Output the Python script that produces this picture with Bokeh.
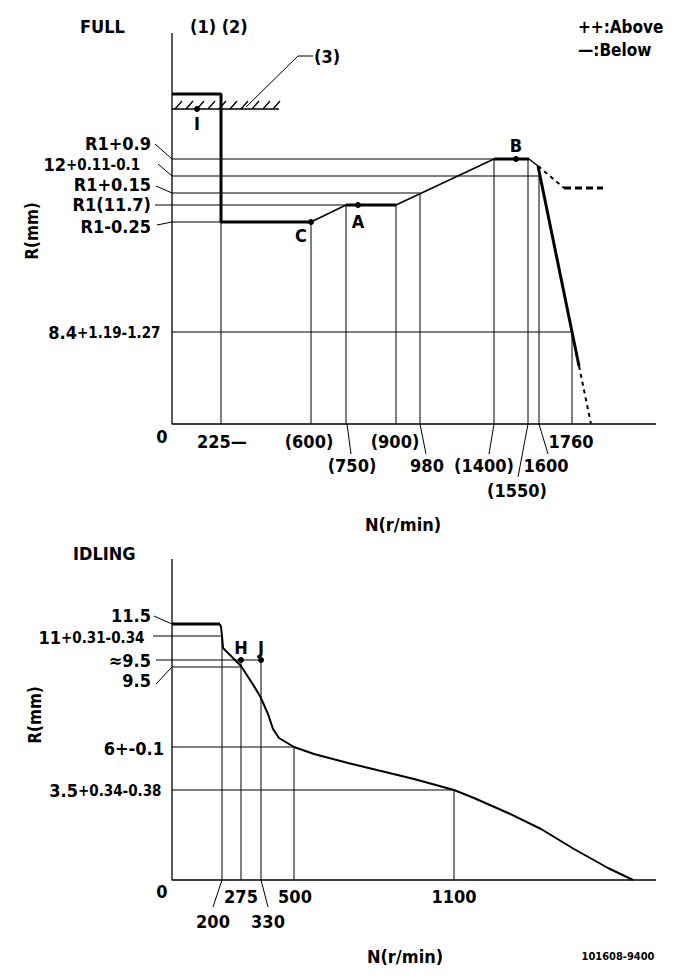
import math
from bokeh.plotting import figure
from bokeh.models import Range1d, ColumnDataSource, Label
from bokeh.core.properties import value
from bokeh.embed import file_html
from bokeh.resources import INLINE

W, H = 681, 979
FONT = "DejaVu Sans Condensed"

# ================= FULL diagram (schematic page positions) =================
full_axis_x = [171, 171, 655]
full_axis_y = [32, 423, 423]

# governor characteristic, thick solid pieces
full_thick_x = [[171, 220, 220, 310], [345, 395], [493, 528], [537, 578]]
full_thick_y = [[93, 93, 221, 221], [204, 204], [158, 158], [165, 365]]
# thin connecting pieces
full_thin_x = [[310, 345], [395, 493], [528, 537]]
full_thin_y = [[221, 204], [204, 158], [158, 165]]
# dashed extensions
full_dash_x = [[578, 590], [537, 563]]
full_dash_y = [[365, 423], [165, 187]]
full_dash2_x = [563, 602]
full_dash2_y = [187, 187]

# reference lines
full_hline_y = [158, 175, 192, 204, 221, 331]
full_hline_x0 = [171, 171, 171, 154, 171, 171]
full_hline_x1 = [493, 538, 419, 345, 220, 571]
full_vline_x = [220, 310, 345, 395, 419, 493, 527, 538, 571]
full_vline_y0 = [221, 221, 204, 204, 192, 158, 158, 175, 331]

# y labels
full_ylab = ["R1+0.9", "R1+0.15", "R1(11.7)", "R1-0.25"]
full_ylab_x = [150, 150, 150, 150]
full_ylab_y = [142, 183, 203, 225]
full_lead_x0 = [154, 157, 155, 156]
full_lead_y0 = [143, 163, 185, 224]
full_lead_y1 = [158, 175, 192, 221]
full_tol_base = ["12", "8.4"]
full_tol_part = ["+0.11-0.1", "+1.19-1.27"]
full_tol_x = [65, 76]
full_tol_y = [163, 331]

# x tick labels
full_xtick = ["225—", "(600)", "(900)", "1760", "(750)", "980", "(1400)", "1600", "(1550)"]
full_xtick_x = [221, 308, 394, 570, 351, 426, 483, 545, 516]
full_xtick_y = [440, 440, 440, 440, 464, 464, 464, 464, 489]
full_xlead_x0 = [346, 419, 493, 527, 538]
full_xlead_x1 = [350, 425, 488, 517, 547]
full_xlead_y1 = [453, 453, 453, 476, 453]

# points
full_pt = ["I", "C", "A", "B"]
full_pt_x = [196, 310, 357, 515]
full_pt_y = [108, 221, 204, 158]
full_pt_lx = [196, 300, 357, 515]
full_pt_ly = [122, 234, 220, 144]

# stopper (3)
stop_x = [171, 278]
stop_y = [108, 108]
hatch_x = [174, 185, 196, 207, 218, 229, 240, 251, 262, 272]
lead3_x = [245, 297, 312]
lead3_y = [106, 55, 55]

# ================= IDLING diagram =================
idle_axis_x = [171, 171, 655]
idle_axis_y = [558, 879, 879]
idle_thick_x = [171, 219]
idle_thick_y = [623, 623]
idle_curve_x = [219, 220, 221, 222, 240, 251, 259, 267, 272, 278, 293, 313, 347,
                380, 413, 453, 473, 507, 540, 573, 607, 632]
idle_curve_y = [623, 626, 635, 647, 665, 682, 695, 713, 728, 737, 746, 753, 762,
                770, 778, 789, 797, 812, 828, 848, 867, 879]

idle_hline_y = [635, 659, 666, 746, 789]
idle_hline_x0 = [152, 155, 171, 171, 171]
idle_hline_x1 = [220, 260, 240, 293, 453]
idle_vline_x = [221, 240, 260, 293, 453]
idle_vline_y0 = [635, 659, 659, 746, 789]

idle_ylab = ["11.5", "≈9.5", "9.5", "6+-0.1"]
idle_ylab_x = [150, 150, 150, 163]
idle_ylab_y = [614, 659, 679, 747]
idle_lead_x0 = [153, 155]
idle_lead_y0 = [615, 683]
idle_lead_y1 = [623, 666]
idle_tol_base = ["11", "3.5"]
idle_tol_part = ["+0.31-0.34", "+0.34-0.38"]
idle_tol_x = [60, 77]
idle_tol_y = [636, 789]

idle_xtick = ["275", "500", "1100", "200", "330"]
idle_xtick_x = [240, 294, 453, 212, 267]
idle_xtick_y = [895, 895, 895, 920, 920]
idle_xlead_x0 = [221, 260]
idle_xlead_x1 = [212, 267]

idle_pt = ["H", "J"]
idle_pt_x = [240, 260]
idle_pt_y = [659, 659]

# ============================ drawing ============================
# half-pixel offset so 1px lines fall on pixel centres
p = figure(width=W, height=H, x_range=Range1d(-0.5, W - 0.5), y_range=Range1d(H - 0.5, -0.5),
           output_backend="svg", toolbar_location=None, min_border=0,
           x_axis_location=None, y_axis_location=None)
p.grid.visible = False
p.outline_line_color = None
p.background_fill_color = "white"
p.border_fill_color = "white"

BK = "black"


def txt(xs, ys, texts, align="center", size=18, bold=True):
    src = ColumnDataSource(dict(x=xs, y=ys, t=texts))
    p.text(x="x", y="y", text="t", source=src, text_align=align,
           text_baseline="middle", text_font=value(FONT),
           text_font_size=value(f"{size}px"),
           text_font_style="bold" if bold else "normal", text_color=BK)


# ---- FULL ----
p.line(full_axis_x, full_axis_y, line_color=BK, line_width=1.3)
p.multi_line(full_thick_x, full_thick_y, line_color=BK, line_width=3)
p.multi_line(full_thin_x, full_thin_y, line_color=BK, line_width=1.5)
p.multi_line(full_dash_x, full_dash_y, line_color=BK, line_width=2, line_dash="4 4")
p.line(full_dash2_x, full_dash2_y, line_color=BK, line_width=3, line_dash="7 4")
p.segment(full_hline_x0, full_hline_y, full_hline_x1, full_hline_y, line_color=BK, line_width=1)
p.segment(full_vline_x, full_vline_y0, full_vline_x, [423] * len(full_vline_x), line_color=BK, line_width=1)
p.segment(full_lead_x0, full_lead_y0, [171] * 4, full_lead_y1, line_color=BK, line_width=1)
p.segment(full_xlead_x0, [423] * 5, full_xlead_x1, full_xlead_y1, line_color=BK, line_width=1)
p.line(stop_x, stop_y, line_color=BK, line_width=1.3)
p.segment(hatch_x, [108] * len(hatch_x), [h + 7 for h in hatch_x], [100] * len(hatch_x),
          line_color=BK, line_width=1.3)
p.line(lead3_x, lead3_y, line_color=BK, line_width=1)
p.scatter(full_pt_x, full_pt_y, size=5, color=BK)

txt(full_ylab_x, full_ylab_y, full_ylab, align="right")
txt(full_tol_x, full_tol_y, full_tol_base, align="right")
txt(full_tol_x, full_tol_y, full_tol_part, align="left", size=15)
txt(full_xtick_x, full_xtick_y, full_xtick)
txt(full_pt_lx, full_pt_ly, full_pt)
txt([79, 189, 313], [25, 25, 55], ["FULL", "(1) (2)", "(3)"], align="left")
txt([577, 577], [26, 49], ["++:Above", "—:Below"], align="left", size=17)
txt([161, 402], [435, 523], ["0", "N(r/min)"])

# ---- IDLING ----
p.line(idle_axis_x, idle_axis_y, line_color=BK, line_width=1.3)
p.line(idle_thick_x, idle_thick_y, line_color=BK, line_width=3)
p.line(idle_curve_x, idle_curve_y, line_color=BK, line_width=2)
p.segment(idle_hline_x0, idle_hline_y, idle_hline_x1, idle_hline_y, line_color=BK, line_width=1)
p.segment(idle_vline_x, idle_vline_y0, idle_vline_x, [879] * len(idle_vline_x), line_color=BK, line_width=1)
p.segment(idle_lead_x0, idle_lead_y0, [171, 171], idle_lead_y1, line_color=BK, line_width=1)
p.segment(idle_xlead_x0, [879, 879], idle_xlead_x1, [906, 906], line_color=BK, line_width=1)
p.scatter(idle_pt_x, idle_pt_y, size=5, color=BK)

txt(idle_ylab_x, idle_ylab_y, idle_ylab, align="right")
txt(idle_tol_x, idle_tol_y, idle_tol_base, align="right")
txt(idle_tol_x, idle_tol_y, idle_tol_part, align="left", size=15)
txt(idle_xtick_x, idle_xtick_y, idle_xtick)
txt(idle_pt_x, [646, 646], idle_pt)
txt([72], [552], ["IDLING"], align="left")
txt([161, 404], [890, 955], ["0", "N(r/min)"])
txt([617], [955], ["101608-9400"], size=11)

# rotated axis titles
for (lx, ly) in [(31, 230), (34, 714)]:
    p.add_layout(Label(x=lx, y=ly, text="R(mm)", angle=math.pi / 2,
                       text_align="center", text_baseline="middle",
                       text_font=FONT, text_font_size="17px",
                       text_font_style="bold", text_color=BK))

open("out.html", "w").write(file_html(p, INLINE))
